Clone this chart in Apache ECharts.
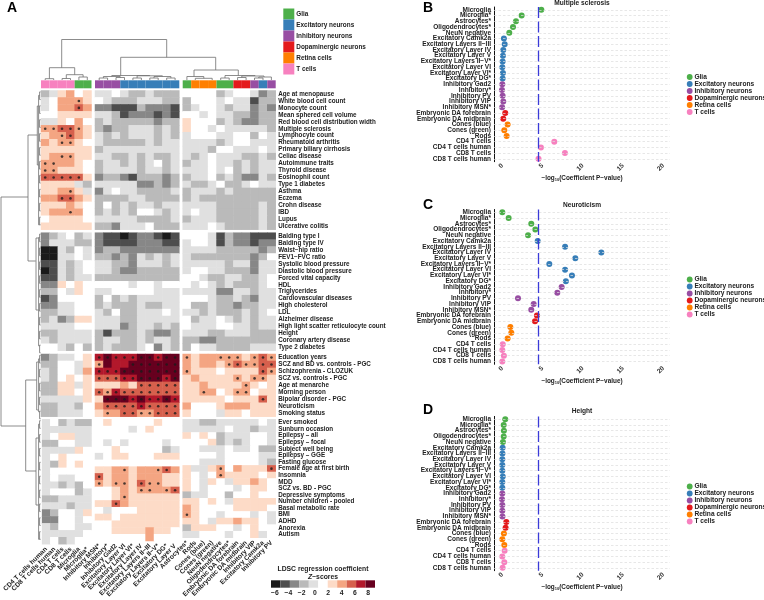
<!DOCTYPE html>
<html><head><meta charset="utf-8">
<style>html,body{margin:0;padding:0;background:#fff}#c{width:764px;height:600px}</style>
<script src="https://cdn.jsdelivr.net/npm/echarts@6/dist/echarts.min.js"></script>
</head><body><div id="c"></div>
<script>
const FONT = '"Liberation Sans",Arial,sans-serif';
const INK = '#222';
// ---------- data: heat map ----------
const colBlockImmune = ['CD4 T cells human','CD8 T cells human','CD4 T cells','CD8 T cells','Microglia','Microglia*'];
const colBlockNeuron = ['Inhibitory MSN*','Inhibitory*','Inhibitory Gad2','Excitatory Layer VI','Excitatory Layer VI*','Excitatory Layer IV','Excitatory Layers II−III','Excitatory Layers II−V*','Excitatory DG*','Excitatory Layer V'];
const colBlockMixed = ['Astrocytes*','Rods','Cones (blue)','Cones (green)','NeuN negative','Oligodendrocytes*','Embryonic DA forebrain','Embryonic DA midbrain','Inhibitory VIP','Excitatory Camk2a','Inhibitory PV'];
const groupNames = ['Glia','Excitatory neurons','Inhibitory neurons','Dopaminergic neurons','Retina cells','T cells'];
const groupColors = ['#4daf4a','#377eb8','#984ea3','#e41a1c','#ff7f00','#f781bf'];
const annotImmune = [5,5,5,5,0,0];
const annotNeuron = [2,2,2,1,1,1,1,1,1,1];
const annotMixed = [0,4,4,4,0,0,3,3,2,1,2];

const rowsImmune = ['Age at menopause','White blood cell count','Monocyte count','Mean sphered cell volume','Red blood cell distribution width','Multiple sclerosis','Lymphocyte count','Rheumatoid arthritis','Primary biliary cirrhosis','Celiac disease','Autoimmune traits','Thyroid disease','Eosinophil count','Type 1 diabetes','Asthma','Eczema','Crohn disease','IBD','Lupus','Ulcerative colitis'];
const rowsMetabolic = ['Balding type I','Balding type IV','Waist−hip ratio','FEV1−FVC ratio','Systolic blood pressure','Diastolic blood pressure','Forced vital capacity','HDL','Triglycerides','Cardiovascular diseases','High cholesterol','LDL','Alzheimer disease','High light scatter reticulocyte count','Height','Coronary artery disease','Type 2 diabetes'];
const rowsPsych = ['Education years','SCZ and BD vs. controls - PGC','Schizophrenia - CLOZUK','SCZ vs. controls - PGC','Age at menarche','Morning person','Bipolar disorder - PGC','Neuroticism','Smoking status'];
const rowsOther = ['Ever smoked','Sunburn occasion','Epilepsy – all','Epilepsy – focal','Subject well being','Epilepsy – GGE','Fasting glucose','Female age at first birth','Insomnia','MDD','SCZ vs. BD - PGC','Depressive symptoms','Number children - pooled','Basal metabolic rate','BMI','ADHD','Anorexia','Autism'];

// one character per cell = colour-bin of the Z-score (0 darkest grey ... 5 white ... a darkest red); * = significant
const cellsImmune = [
'346756 4454334333 55553455423',
'45777*6 5433344433 35554544133',
'45778*7 2211132221 34554344232',
'556666 4431222121 55454433233',
'446575 3433333233 65553432233',
'7*7*8*8*7*6 3233444343 65545444443',
'677*8*76 4343444343 45554455354',
'767*7*65 4333334344 44443455444',
'666666 3444444444 44435544454',
'677*7*66 4433434334 43454443343',
'7*7*7765 3443434534 34454434344',
'7*7*6665 3444434434 44454534344',
'8*8*8*8*8*6 2332133323 34453432243',
'666643 4444422323 43345334544',
'6677*64 2454433334 34443433333',
'778*8*76 3333443333 34333333333',
'666765 3534344344 44443333343',
'6777*75 3434355434 45443333343',
'566665 4444433334 34443333343',
'666666 3324445333 44454333343'];
const cellsMetabolic = [
'234534 2110122101 55541322111',
'244433 2111122211 45541322122',
'004354 2332222222 44443333323',
'004454 3323243434 43333333235',
'114345 4433244434 44444344244',
'014345 4432233333 45544333244',
'114344 3333333333 55433443345',
'226565 5555455455 54543433345',
'335465 4455555444 44442244344',
'125555 3534344444 55543343244',
'224455 3433343344 53343323344',
'334455 4353344454 44343334345',
'342366 4443344444 53445434344',
'444455 4442344343 54445544344',
'334444 3133343223 44433444333',
'434444 3443343443 33223333333',
'554353 3433345243 35443333444'];
const cellsPsych = [
'234456 9*a*9*9*9*a*a*9*a*a* 7*6777*7*7*67*8*7*',
'335546 7*a99a*a*a*a*a*a* 767767*8*7*7*8*8*',
'435547 9*9*9*a*a*a*a*a*a*a* 7*666566668*7*',
'435656 8*8*8*9*9*a*a*a*9*a* 6766667*67*7*6',
'336646 666768*8*8*8*8* 66766667*656',
'336656 8*7*9*8*8*8*8*8*8*8* 667*7567*7*566',
'444446 6a*a*a*9*a*9*9*a*9* 6666656668*6',
'334435 78*8*8*8*9*8*8*8*8* 75556777666',
'334445 67*78*8*7*7*8*8*8* 65554665666'];
const cellsOther = [
'453433 5655555655 44334444454',
'444444 5555456555 44444544344',
'456644 5555555555 65653444554',
'335544 5454555545 55563434554',
'444465 5565555534 55444544533',
'456555 4566555666 55554555544',
'436565 5555555555 55444555543',
'455555 6677*6777*8*7 64467*576668*',
'454455 8*677677766 65457*666656',
'443435 7*67*7*68*7*7*66 65465466765',
'455534 556767*7*77*8* 65455545665',
'334444 5567*666666 34455355655',
'444344 668*7666666 66565466666',
'235546 5455566666 76555566665',
'225545 6656666666 7*6554555454',
'435544 5566666666 66546676654',
'444445 5566667665 36665545655',
'453455 5555557555 44555455645'];

// colour bins of the Z-score legend
const binStart = -6.6, binStep = 1.42;
const binColors = ['#1a1a1a','#4d4d4d','#878787','#bababa','#e0e0e0','#ffffff','#fddbc7','#f4a582','#d6604d','#b2182b','#67001f'];
const binTicks = [-6,-4,-2,0,2,4,6,8];

// ---------- data: dot plots ----------
const dotCategories = ['Microglia','Microglia*','Astrocytes*','Oligodendrocytes*','NeuN negative','Excitatory Camk2a','Excitatory Layers II−III','Excitatory Layer IV','Excitatory Layer V','Excitatory Layers II−V*','Excitatory Layer VI','Excitatory Layer VI*','Excitatory DG*','Inhibitory Gad2','Inhibitory*','Inhibitory PV','Inhibitory VIP','Inhibitory MSN*','Embryonic DA forebrain','Embryonic DA midbrain','Cones (blue)','Cones (green)','Rods','CD4 T cells','CD4 T cells human','CD8 T cells','CD8 T cells human'];
const dotGroups = [0,0,0,0,0,1,1,1,1,1,1,1,1,2,2,2,2,2,3,3,4,4,4,5,5,5,5];
const valuesMS = [4.85,2.4,1.7,1.33,0.87,0.2,0.3,0.12,0.08,0.04,0,0.08,0.04,0,-0.04,0.04,0.12,-0.02,0.37,0.12,0.66,0.25,0.54,6.46,4.8,7.78,4.5];
const valuesNeuro = [0,0.79,3.6,4.1,3.2,4.4,7.8,12.3,9.07,5.84,7.8,8.65,7.9,7.37,6.83,1.95,3.9,3.6,4.3,4.06,1.0,1.12,0.66,0.06,0,0.2,0];
const valuesHeight = [0.37,0.17,0.2,0.17,0.08,0.04,0.02,0,0,0,0.06,0,0,0,-0.04,0,0,0.02,0.5,0.41,0.2,0,0.25,0.29,0,0.25,0.04];
const pThreshold = 4.52;
const dotTicks = [0,5,10,15,20];

// ---------- data: dendrograms (axis units of an overlay frame) ----------
const treeTop = [ // xLeft, xRight, yJoin, yLeftEnd, yRightEnd
 [61.7,166.7,39.5,67.7,57.3],[49.4,74.7,67.7,78.7,74.7],[45.2,53.7,78.7,80,80],[66.3,83.1,74.7,78.5,77],[62.1,70.5,78.5,80,80],[78.9,87.3,77,80,80],
 [120.7,215.7,57.3,75.5,70],[111.8,149.8,75.5,76.5,75.8],[103.4,120.2,76.5,78,77.5],[99.2,107.6,78,80,80],[116,124.5,77.5,80,80],[137.1,162.4,75.8,78,76.5],[132.9,141.4,78,80,80],[154,170.9,76.5,78,78],[149.8,158.2,78,80,80],[166.7,175.1,78,80,80],
 [194,238.3,70,76.5,75.5],[186.9,203.8,76.5,80,78.3],[195.3,212.2,78.3,80,80],[225,255,75.5,78,76],[220.7,229.2,78,80,80],[241.8,264,76,77.5,77],[237.6,246.1,77.5,80,80],[258.8,271.4,77,78,80],[254.5,263,78,80,80]
];
const treeLeft = [ // yTop, yBottom, xJoin, xTopEnd, xBottomEnd
 [197,426,1,28,25.7],[135,261,28,37.3,35.7],[380,471,25.7,36.7,36],
 [106,165,37.3,38.6,38.6],[238,310,36,38.6,38.6],[362,410,36.7,38.6,38.6],[438,505,36,38.6,38.6]
];

// ---------- layout helpers ----------
const colSpans = [[41,91.5],[95,179.3],[182.7,275.7]];
const rowSpans = [[90.5,229.7],[232.7,350.7],[354,416.7],[419.3,544.2]];
const colBlocks = [colBlockImmune,colBlockNeuron,colBlockMixed];
const annots = [annotImmune,annotNeuron,annotMixed];
const rowBlocks = [rowsImmune,rowsMetabolic,rowsPsych,rowsOther];
const cellBlocks = [cellsImmune,cellsMetabolic,cellsPsych,cellsOther];

function parseRow(s){
  const v=[],m=[];
  for(const ch of s.replace(/ /g,'')){
    if(ch==='*'){m.push(v.length-1);continue;}
    v.push(ch==='a'?10:+ch);
  }
  if(v.length!==27) console.error('bad row',s,v.length);
  return {v,m};
}
const binCenter = i => binStart+binStep*(i+0.5);

const grid=[],xAxis=[],yAxis=[],series=[],heatIdx=[];
function addGrid(g,x,y){grid.push(g);x.gridIndex=grid.length-1;y.gridIndex=grid.length-1;xAxis.push(x);yAxis.push(y);return grid.length-1;}

// heat blocks
rowBlocks.forEach((rows,ri)=>{
  let offset=0;
  const parsed=cellBlocks[ri].map(parseRow);
  colBlocks.forEach((cols,ci)=>{
    const g=addGrid(
      {left:colSpans[ci][0],width:colSpans[ci][1]-colSpans[ci][0],top:rowSpans[ri][0],height:rowSpans[ri][1]-rowSpans[ri][0]},
      {type:'category',data:cols,axisLine:{show:false},axisTick:{show:false},
       axisLabel:{show:ri===3,interval:0,rotate:45,fontSize:6.6,fontWeight:'bold',color:INK,fontFamily:FONT,margin:4}},
      {type:'category',data:rows,inverse:true,position:'right',axisLine:{show:false},axisTick:{show:false},
       axisLabel:{show:ci===2,interval:0,fontSize:6.3,fontWeight:'bold',color:INK,fontFamily:FONT,margin:2.5}});
    const data=[],dots=[];
    parsed.forEach((p,y)=>{
      cols.forEach((_,x)=>{
        data.push([x,y,binCenter(p.v[offset+x])]);
        if(p.m.includes(offset+x)) dots.push([x,y]);
      });
    });
    heatIdx.push(series.length);
    series.push({type:'heatmap',xAxisIndex:g,yAxisIndex:g,data,silent:true,progressive:0,animation:false});
    series.push({type:'scatter',xAxisIndex:g,yAxisIndex:g,data:dots,symbolSize:2.6,itemStyle:{color:'#1a1a1a'},silent:true,z:5});
    offset+=cols.length;
  });
});

// annotation bars
colBlocks.forEach((cols,ci)=>{
  const g=addGrid({left:colSpans[ci][0],width:colSpans[ci][1]-colSpans[ci][0],top:80.3,height:8},
    {type:'category',data:cols,show:false},{type:'value',min:0,max:1,show:false});
  series.push({type:'bar',xAxisIndex:g,yAxisIndex:g,barWidth:'100%',silent:true,
    data:annots[ci].map(k=>({value:1,itemStyle:{color:groupColors[k]}}))});
});

// dot plots
const panels=[
 {name:'Multiple sclerosis',vals:valuesMS,top:7,bottom:161.7,titleY:-0.5},
 {name:'Neuroticism',vals:valuesNeuro,top:209.5,bottom:364.3,titleY:201.5},
 {name:'Height',vals:valuesHeight,top:416.4,bottom:570.7,titleY:407.5}
];
const titles=[];
panels.forEach(p=>{
  const g=addGrid({left:494,width:176,top:p.top,height:p.bottom-p.top},
    {type:'value',min:-1.03,max:20.83,splitLine:{show:false},
     axisLine:{lineStyle:{color:'#111',width:1}},
     axisTick:{length:2,lineStyle:{color:'#111',width:0.8},customValues:dotTicks},
     axisLabel:{rotate:45,fontSize:6.6,fontWeight:'bold',color:'#333',fontFamily:FONT,margin:3,customValues:dotTicks},
     name:'−log{s|10}(Coefficient P−value)',nameLocation:'middle',nameGap:12.5,
     nameTextStyle:{fontSize:6.4,fontWeight:'bold',color:INK,fontFamily:FONT,rich:{s:{fontSize:4,fontWeight:'bold',verticalAlign:'bottom',padding:[3,0,0,0],fontFamily:FONT,color:INK}}}},
    {type:'category',data:dotCategories,inverse:true,splitLine:{show:false},
     axisLine:{onZero:false,lineStyle:{color:'#111',width:1}},
     axisTick:{alignWithLabel:true,length:2,lineStyle:{color:'#111',width:0.8}},
     axisLabel:{interval:0,fontSize:6.5,fontWeight:'bold',color:INK,fontFamily:FONT,margin:3}});
  series.push({type:'line',xAxisIndex:g,yAxisIndex:g,data:[],silent:true,z:1,
    markLine:{silent:true,symbol:'none',animation:false,label:{show:false},
      lineStyle:{color:'#dcdcdc',type:[2.5,2],width:0.7},
      data:dotCategories.map(c=>({yAxis:c}))}});
  series.push({type:'line',xAxisIndex:g,yAxisIndex:g,data:[],silent:true,z:2,
    markLine:{silent:true,symbol:'none',animation:false,label:{show:false},
      lineStyle:{color:'#3a3ad8',type:[11,3.5],width:1.3},
      data:[{xAxis:pThreshold}]}});
  groupNames.forEach((n,k)=>{
    const data=[];
    p.vals.forEach((v,i)=>{if(dotGroups[i]===k)data.push([v,dotCategories[i]]);});
    series.push({type:'scatter',name:n,xAxisIndex:g,yAxisIndex:g,data,symbolSize:6,
      itemStyle:{color:groupColors[k],opacity:1},silent:true,z:4});
  });
  titles.push({text:p.name,left:582,top:p.titleY,padding:0,textAlign:'center',
    textStyle:{fontSize:6.6,fontWeight:'bold',color:INK,fontFamily:FONT}});
});

// colour key
{
  const g=addGrid({left:271,width:104,top:580.3,height:7.4},
    {type:'value',min:binStart,max:binStart+binStep*11,splitLine:{show:false},axisLine:{show:false},
     axisTick:{show:false,customValues:binTicks},
     axisLabel:{fontSize:6.8,color:INK,fontWeight:'bold',fontFamily:FONT,margin:2,customValues:binTicks,
       formatter:v=>String(v).replace('-','−')}},
    {type:'value',min:0,max:1,show:false});
  series.push({type:'custom',xAxisIndex:g,yAxisIndex:g,silent:true,
    data:binColors.map((c,i)=>[binStart+binStep*i,binStart+binStep*(i+1),i]),
    encode:{x:[0,1]},
    renderItem:(params,api)=>{
      const a=api.coord([api.value(0),1]),b=api.coord([api.value(1),0]);
      return {type:'rect',shape:{x:a[0],y:a[1],width:b[0]-a[0],height:b[1]-a[1]},style:{fill:binColors[api.value(2)]}};
    }});
}
titles.push({text:'LDSC regression coefficient',left:323,top:566,padding:0,textAlign:'center',textStyle:{fontSize:6.8,fontWeight:'bold',color:INK,fontFamily:FONT}});
titles.push({text:'{i|Z}−scores',left:323,top:573.3,padding:0,textAlign:'center',textStyle:{fontSize:6.8,fontWeight:'bold',color:INK,fontFamily:FONT,rich:{i:{fontSize:6.8,fontWeight:'bold',fontStyle:'italic',color:INK,fontFamily:FONT}}}});

// panel letters
[['A',7,1],['B',423,1],['C',423,198],['D',423,403]].forEach(([t,l,tp])=>{
  titles.push({text:t,left:l,top:tp,padding:0,textStyle:{fontSize:14,fontWeight:'bold',color:'#000',fontFamily:FONT}});
});

// dendrograms on a hidden overlay frame
{
  const g=addGrid({left:0,right:0,top:0,bottom:0},
    {type:'value',min:0,max:764,show:false},{type:'value',min:0,max:600,inverse:true,show:false});
  const treeStyle={stroke:'#6e6e6e',fill:'none',lineWidth:0.8};
  series.push({type:'custom',xAxisIndex:g,yAxisIndex:g,silent:true,clip:false,data:treeTop,encode:{x:[0,1],y:2},
    renderItem:(params,api)=>{
      const [a,b,y,e1,e2]=[0,1,2,3,4].map(d=>api.value(d));
      return {type:'polyline',shape:{points:[api.coord([a,e1]),api.coord([a,y]),api.coord([b,y]),api.coord([b,e2])]},style:treeStyle};
    }});
  const leafBrackets=[];
  rowSpans.forEach((span,ri)=>{
    const n=rowBlocks[ri].length,h=(span[1]-span[0])/n;
    for(let k=0;k<n;k+=2){
      leafBrackets.push([span[0]+h*(k+0.2),span[0]+h*(k+1.3),39.6,40.6,40.6]);
    }
    leafBrackets.push([span[0]+h*0.7,span[1]-h*0.7,38.6,39.6,39.6]);
  });
  series.push({type:'custom',xAxisIndex:g,yAxisIndex:g,silent:true,clip:false,data:treeLeft.concat(leafBrackets),encode:{x:2,y:[0,1]},
    renderItem:(params,api)=>{
      const [a,b,x,e1,e2]=[0,1,2,3,4].map(d=>api.value(d));
      return {type:'polyline',shape:{points:[api.coord([e1,a]),api.coord([x,a]),api.coord([x,b]),api.coord([e2,b])]},style:treeStyle};
    }});
}

const dotLegend=(top)=>({show:true,orient:'vertical',left:686.8,top,itemWidth:6.4,itemHeight:5.8,itemGap:0,icon:'circle',selectedMode:false,
  data:groupNames,itemStyle:{opacity:1},padding:0,textStyle:{fontSize:6.6,fontWeight:'bold',color:INK,fontFamily:FONT,lineHeight:5.8,padding:[0,0,0,-3.5]}});

const pieces=binColors.map((c,i)=>({min:binStart+binStep*i,max:binStart+binStep*(i+1),color:c}));

const chart=echarts.init(document.getElementById('c'),null,{renderer:'canvas'});
chart.setOption({
  animation:false,backgroundColor:'#fff',title:titles,grid,xAxis,yAxis,series,
  tooltip:{show:false},
  visualMap:{type:'piecewise',show:false,seriesIndex:heatIdx,dimension:2,pieces},
  legend:[
    {orient:'vertical',left:283.3,top:8.5,itemWidth:11,itemHeight:11,itemGap:0,icon:'rect',selectedMode:false,padding:0,data:groupNames,
     textStyle:{fontSize:6.4,fontWeight:'bold',color:INK,fontFamily:FONT,padding:[0,0,0,-3]}},
    dotLegend(73.5),dotLegend(276),dotLegend(483)
  ]
});
</script></body></html>
